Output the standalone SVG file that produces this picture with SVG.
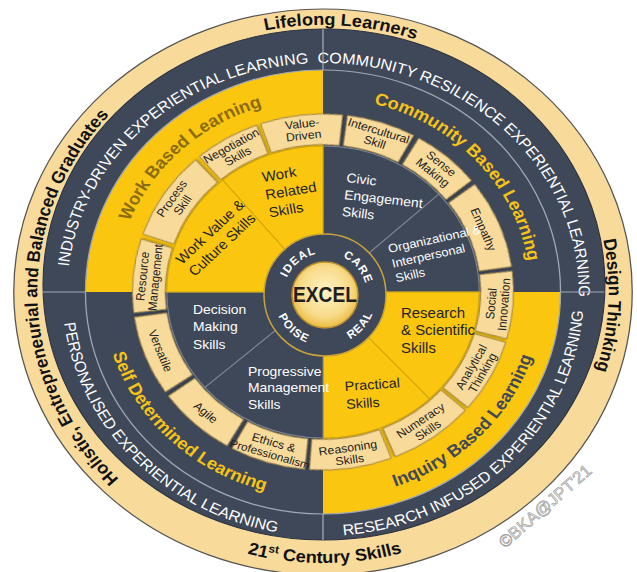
<svg xmlns="http://www.w3.org/2000/svg" width="637" height="572" viewBox="0 0 637 572">
<defs>
<style>
.cream{fill:#F8DB9B}
.navy{fill:#3F4859}
.yel{fill:#FBC60F}
.box{fill:#F8DB9B;stroke:#9C8248;stroke-width:0.9;filter:url(#sh)}
.sn{stroke:#7E8798;stroke-width:1}
.sy{stroke:#D2A60A;stroke-width:1}
.bt{font-family:"Liberation Sans Narrow","Liberation Sans",Arial,sans-serif;font-size:11.5px;fill:#222;text-anchor:middle}
.it{font-family:"Liberation Sans Narrow","Liberation Sans",Arial,sans-serif;font-size:13.5px}
.w{fill:#fff}
.d{fill:#1E2431}
.ot{font-family:"Liberation Sans",Arial,sans-serif;font-weight:bold;font-size:17px;fill:#111;text-anchor:middle}
.nt{font-family:"Liberation Sans",Arial,sans-serif;font-size:15px;fill:#fff;text-anchor:middle}
.qt{font-family:"Liberation Sans",Arial,sans-serif;font-weight:bold;font-size:17px;text-anchor:middle}
.ct{font-family:"Liberation Sans",Arial,sans-serif;font-weight:bold;font-size:11.5px;fill:#fff;text-anchor:middle;letter-spacing:1px}
.div{stroke:#A0A8B5;stroke-width:1.2;fill:none}
</style>
<filter id="sh" x="-20%" y="-20%" width="140%" height="140%">
<feDropShadow dx="0.8" dy="1" stdDeviation="0.9" flood-color="#000" flood-opacity="0.35"/>
</filter>
<radialGradient id="cg" cx="50%" cy="45%" r="55%">
<stop offset="0" stop-color="#FFF3C4"/>
<stop offset="0.7" stop-color="#F8DB8A"/>
<stop offset="1" stop-color="#EBBB3E"/>
</radialGradient>
<path id="b10" d="M-30.91,-175.30 A178,178 0 0 1 30.91,-175.30 L25.61,-145.26 A147.5,147.5 0 0 0 -25.61,-145.26 Z"/>
<path id="b105" d="M-32.44,-175.02 A178,178 0 0 1 32.44,-175.02 L26.88,-145.03 A147.5,147.5 0 0 0 -26.88,-145.03 Z"/>
<path id="b11" d="M-33.96,-174.73 A178,178 0 0 1 33.96,-174.73 L28.14,-144.79 A147.5,147.5 0 0 0 -28.14,-144.79 Z"/>
<path id="b115" d="M-35.49,-174.43 A178,178 0 0 1 35.49,-174.43 L29.41,-144.54 A147.5,147.5 0 0 0 -29.41,-144.54 Z"/>
<path id="b12" d="M-37.01,-174.11 A178,178 0 0 1 37.01,-174.11 L30.67,-144.28 A147.5,147.5 0 0 0 -30.67,-144.28 Z"/>
<path id="b125" d="M-38.53,-173.78 A178,178 0 0 1 38.53,-173.78 L31.93,-144.00 A147.5,147.5 0 0 0 -31.93,-144.00 Z"/>
<path id="b13" d="M-40.04,-173.44 A178,178 0 0 1 40.04,-173.44 L33.18,-143.72 A147.5,147.5 0 0 0 -33.18,-143.72 Z"/>
<path id="b145" d="M-44.57,-172.33 A178,178 0 0 1 44.57,-172.33 L36.93,-142.80 A147.5,147.5 0 0 0 -36.93,-142.80 Z"/>
<path id="p267" d="M0,267 A267,267 0 0 1 0,-267 A267,267 0 0 1 0,267"/>
<path id="p271" d="M0,-271 A271,271 0 0 0 0,271 A271,271 0 0 0 0,-271"/>
<path id="p237" d="M0,229 A239,229 0 0 1 0,-229 A239,229 0 0 1 0,229"/>
<path id="p244" d="M0,-244 A244,244 0 0 0 0,244 A244,244 0 0 0 0,-244"/>
<path id="p194" d="M0,194 A194,194 0 0 1 0,-194 A194,194 0 0 1 0,194"/>
<path id="p206" d="M0,-206 A206,206 0 0 0 0,206 A206,206 0 0 0 0,-206"/>
<path id="c42" d="M0,42 A42,42 0 0 1 0,-42 A42,42 0 0 1 0,42"/>
<path id="c51" d="M0,-51 A51,51 0 0 0 0,51 A51,51 0 0 0 0,-51"/>
</defs>
<rect width="637" height="572" fill="#fff"/>
<g transform="translate(323,292) scale(1.07,1)">
  <g id="outer-ring">
    <ellipse class="cream" rx="289" ry="283" stroke="#555" stroke-width="1.2"/>
    <text class="ot"><textPath href="#p267" startOffset="51%">Lifelong Learners</textPath></text>
    <text class="ot"><textPath href="#p267" startOffset="75.8%">Design Thinking</textPath></text>
    <text class="ot"><textPath href="#p267" startOffset="24.6%">Holistic, Entrepreneurial and Balanced Graduates</textPath></text>
    <text class="ot"><textPath href="#p271" startOffset="50.1%">21<tspan font-size="11" dy="-6">st</tspan><tspan dy="6"> Century Skills</tspan></textPath></text>
  </g>
  <g id="experiential-ring">
    <ellipse class="navy" cx="0.9" cy="-7.5" rx="262.6" ry="255.5" stroke="#2A3140" stroke-width="1"/>
    <text class="nt"><textPath href="#p237" startOffset="37.9%">INDUSTRY-DRIVEN EXPERIENTIAL LEARNING</textPath></text>
    <text class="nt"><textPath href="#p237" startOffset="62.5%">COMMUNITY RESILIENCE EXPERIENTIAL LEARNING</textPath></text>
    <text class="nt"><textPath href="#p244" startOffset="62.5%">RESEARCH INFUSED EXPERIENTIAL LEARNING</textPath></text>
    <text class="nt"><textPath href="#p244" startOffset="37.1%">PERSONALISED EXPERIENTIAL LEARNING</textPath></text>
  </g>
  <g id="q-work">
    <path class="yel" d="M0,0 L-222,0 A222,222 0 0 1 0,-222 Z"/>
    <text class="qt" fill="#8A6C12"><textPath href="#p194" startOffset="38.1%">Work Based Learning</textPath></text>
  </g>
  <g id="q-community">
    <path class="navy" d="M0,0 L0,-222 A222,222 0 0 1 222,0 Z"/>
    <text class="qt" fill="#F7C416"><textPath href="#p194" startOffset="63.2%">Community Based Learning</textPath></text>
  </g>
  <g id="q-inquiry">
    <path class="yel" d="M0,0 L222,0 A222,222 0 0 1 0,222 Z"/>
    <text class="qt" fill="#3F4859"><textPath href="#p206" startOffset="62.6%">Inquiry Based Learning</textPath></text>
  </g>
  <g id="q-self">
    <path class="navy" d="M0,0 L0,222 A222,222 0 0 1 -222,0 Z"/>
    <text class="qt" fill="#F7C416"><textPath href="#p206" startOffset="37.8%">Self Determined Learning</textPath></text>
  </g>
  <g id="dividers">
    <circle class="div" r="222"/>
    <path class="div" d="M0,-263 V-222 M0,222 V248 M-262,0 H-222 M222,0 H263"/>
  </g>
  <g id="box-value-driven" transform="rotate(353.4)"><use href="#b125" class="box"/><text class="bt" y="-165.5"><tspan x="0">Value-</tspan><tspan x="0" dy="12">Driven</tspan></text></g>
  <g id="box-intercultural" transform="rotate(17.9)"><use href="#b105" class="box"/><text class="bt" y="-165.5"><tspan x="0">Intercultural</tspan><tspan x="0" dy="12">Skill</tspan></text></g>
  <g id="box-sense-making" transform="rotate(40.7)"><use href="#b105" class="box"/><text class="bt" y="-165.5"><tspan x="0">Sense</tspan><tspan x="0" dy="12">Making</tspan></text></g>
  <g id="box-empathy" transform="rotate(67.3)"><use href="#b145" class="box"/><text class="bt" x="0" y="-158.6">Empathy</text></g>
  <g id="box-social-innovation" transform="rotate(94.25)"><use href="#b11" class="box"/><text class="bt" y="-165.5" transform="rotate(180 0 -163.5)"><tspan x="0">Social</tspan><tspan x="0" dy="12">Innovation</tspan></text></g>
  <g id="box-analytical" transform="rotate(118.45)"><use href="#b12" class="box"/><text class="bt" y="-165.5" transform="rotate(180 0 -163.5)"><tspan x="0">Analytical</tspan><tspan x="0" dy="12">Thinking</tspan></text></g>
  <g id="box-numeracy" transform="rotate(144.65)"><use href="#b13" class="box"/><text class="bt" y="-165.5" transform="rotate(180 0 -163.5)"><tspan x="0">Numeracy</tspan><tspan x="0" dy="12">Skills</tspan></text></g>
  <g id="box-reasoning" transform="rotate(171.55)"><use href="#b125" class="box"/><text class="bt" y="-165.5" transform="rotate(180 0 -163.5)"><tspan x="0">Reasoning</tspan><tspan x="0" dy="12">Skills</tspan></text></g>
  <g id="box-ethics" transform="rotate(197)"><use href="#b115" class="box"/><text class="bt" y="-165.5" transform="rotate(180 0 -163.5)"><tspan x="0">Ethics &amp;</tspan><tspan x="0" dy="12" style="font-size:11px">Professionalism</tspan></text></g>
  <g id="box-agile" transform="rotate(222.25)"><use href="#b12" class="box"/><text class="bt" x="0" y="-158.6" transform="rotate(180 0 -162.75)">Agile</text></g>
  <g id="box-versatile" transform="rotate(248.85)"><use href="#b13" class="box"/><text class="bt" x="0" y="-158.6" transform="rotate(180 0 -162.75)">Versatile</text></g>
  <g id="box-resource" transform="rotate(275.3)"><use href="#b12" class="box"/><text class="bt" y="-165.5"><tspan x="0">Resource</tspan><tspan x="0" dy="12">Management</tspan></text></g>
  <g id="box-process" transform="rotate(303.5)"><use href="#b145" class="box"/><text class="bt" y="-165.5"><tspan x="0">Process</tspan><tspan x="0" dy="12">Skill</tspan></text></g>
  <g id="box-negotiation" transform="rotate(329.6)"><use href="#b10" class="box"/><text class="bt" y="-165.5"><tspan x="0">Negotiation</tspan><tspan x="0" dy="12">Skills</tspan></text></g>

  <g id="sec-civic"><path class="navy sn" d="M0,0 L0,-146 A146,146 0 0 1 108.3,-97.9 Z"/>
    <text class="it w" style="font-size:13px" transform="rotate(7 21.5 -110)"><tspan x="21.5" y="-110">Civic</tspan><tspan x="21.5" dy="17">Engagement</tspan><tspan x="21.5" dy="17">Skills</tspan></text></g>
  <g id="sec-organizational"><path class="navy sn" d="M0,0 L108.3,-97.9 A146,146 0 0 1 146,0 Z"/>
    <text class="it w" style="font-size:12px" transform="rotate(-13 62 -39)"><tspan x="62" y="-39">Organizational &amp;</tspan><tspan x="62" dy="15">Interpersonal</tspan><tspan x="62" dy="15">Skills</tspan></text></g>
  <g id="sec-research"><path class="yel sy" d="M0,0 L146,0 A146,146 0 0 1 99.6,106.8 Z"/>
    <text class="it d" style="font-size:14px"><tspan x="72.9" y="26">Research</tspan><tspan x="72.9" dy="17.5">&amp; Scientific</tspan><tspan x="72.9" dy="17.5">Skills</tspan></text></g>
  <g id="sec-practical"><path class="yel sy" d="M0,0 L99.6,106.8 A146,146 0 0 1 0,146 Z"/>
    <text class="it d" transform="rotate(-4 20.6 99)"><tspan x="20.6" y="99">Practical</tspan><tspan x="20.6" dy="18">Skills</tspan></text></g>
  <g id="sec-progressive"><path class="navy sn" d="M0,0 L0,146 A146,146 0 0 1 -110.5,95.4 Z"/>
    <text class="it w" style="font-size:13px"><tspan x="-70.1" y="84">Progressive</tspan><tspan x="-70.1" dy="16.5">Management</tspan><tspan x="-70.1" dy="16.5">Skills</tspan></text></g>
  <g id="sec-decision"><path class="navy sn" d="M0,0 L-110.5,95.4 A146,146 0 0 1 -146,0 Z"/>
    <text class="it w" style="font-size:13px"><tspan x="-121.5" y="22">Decision</tspan><tspan x="-121.5" dy="17.5">Making</tspan><tspan x="-121.5" dy="17.5">Skills</tspan></text></g>
  <g id="sec-work-value"><path class="yel sy" d="M0,0 L-146,0 A146,146 0 0 1 -93.6,-112 Z"/>
    <text class="it d" style="font-size:14px" transform="rotate(-45 -131.8 -27)"><tspan x="-131.8" y="-27">Work Value &amp;</tspan><tspan x="-131.8" dy="17">Culture Skills</tspan></text></g>
  <g id="sec-work-related"><path class="yel sy" d="M0,0 L-93.6,-112 A146,146 0 0 1 0,-146 Z"/>
    <text class="it d" style="font-size:14px" transform="rotate(-10 -56.1 -110)"><tspan x="-56.1" y="-110">Work</tspan><tspan x="-56.1" dy="18">Related</tspan><tspan x="-56.1" dy="18">Skills</tspan></text></g>
</g>
<g id="center" transform="translate(325,295)">
  <circle class="navy" r="61" stroke="#C9A23A" stroke-width="1.5"/>
  <circle r="33" fill="url(#cg)" stroke="#B99030" stroke-width="1.5"/>
  <text class="ct"><textPath href="#c42" startOffset="39.25%">IDEAL</textPath></text>
  <text class="ct"><textPath href="#c42" startOffset="63.9%">CARE</textPath></text>
  <text class="ct"><textPath href="#c51" startOffset="63.7%">REAL</textPath></text>
  <text class="ct"><textPath href="#c51" startOffset="38%">POISE</textPath></text>
  <text x="0" y="7" text-anchor="middle" font-family="Liberation Sans, Arial, sans-serif" font-weight="bold" font-size="22" fill="#1F1F1F" textLength="64" lengthAdjust="spacingAndGlyphs">EXCEL</text>
</g>
<text x="545" y="512" transform="rotate(-41 545 506)" font-family="Liberation Sans, Arial, sans-serif" font-size="17" fill="#E4E4E4" stroke="#9A9A9A" stroke-width="0.6" text-anchor="middle">©BKA@JPT'21</text>
</svg>
